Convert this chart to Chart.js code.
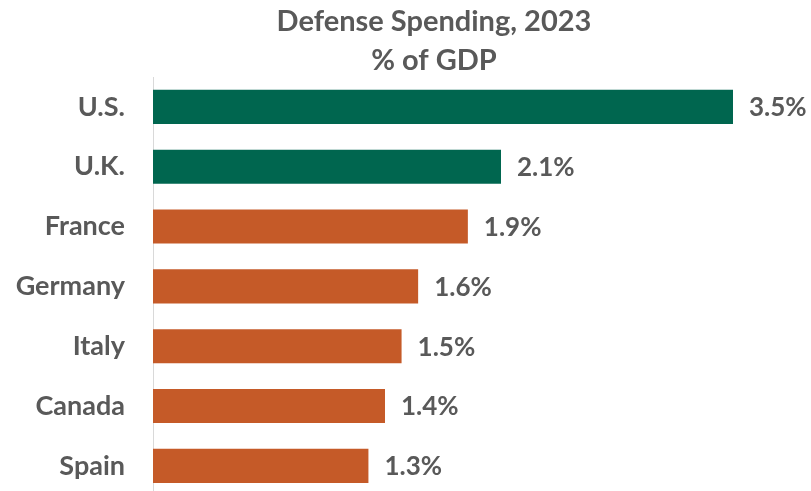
<!DOCTYPE html>
<html>
<head>
<meta charset="utf-8">
<script src="https://cdn.jsdelivr.net/npm/chart.js@4.4.0/dist/chart.umd.min.js"></script>
<style>
  html, body { margin: 0; padding: 0; background: #fff; overflow: hidden; }
  #wrap { width: 811px; height: 491px; overflow: hidden; }
  #box { position: relative; width: 811px; height: 540px; }
</style>
</head>
<body>
<div id="wrap"><div id="box"><canvas id="chart"></canvas></div></div>
<script>
const countries = ['U.S.', 'U.K.', 'France', 'Germany', 'Italy', 'Canada', 'Spain'];
const spending = [3.5, 2.1, 1.9, 1.6, 1.5, 1.4, 1.3];
const barColors = ['#00664f', '#00664f', '#c55a28', '#c55a28', '#c55a28', '#c55a28', '#c55a28'];
const titleLines = ['Defense Spending, 2023', '% of GDP'];

const textGray = '#595959';
const fontFamily = 'Lato, "Open Sans", sans-serif';

// title drawn by hand so it can sit over the bars rather than the whole canvas
const titlePlugin = {
  id: 'twoLineTitle',
  afterDraw(chart) {
    const ctx = chart.ctx;
    ctx.save();
    ctx.fillStyle = textGray;
    ctx.font = 'bold 29px ' + fontFamily;
    ctx.textAlign = 'center';
    ctx.textBaseline = 'alphabetic';
    ctx.fillText(titleLines[0], 434, 31);
    ctx.fillText(titleLines[1], 434, 70);
    ctx.restore();
  }
};

// percent labels at the end of each bar
const valueLabels = {
  id: 'valueLabels',
  afterDatasetsDraw(chart) {
    const ctx = chart.ctx;
    const meta = chart.getDatasetMeta(0);
    ctx.save();
    ctx.fillStyle = textGray;
    ctx.font = 'bold 26px ' + fontFamily;
    ctx.textAlign = 'left';
    ctx.textBaseline = 'middle';
    meta.data.forEach((bar, i) => {
      ctx.fillText(spending[i].toFixed(1) + '%', bar.x + 16, bar.y + 1);
    });
    ctx.restore();
  }
};

new Chart(document.getElementById('chart'), {
  type: 'bar',
  data: {
    labels: countries,
    datasets: [{
      data: spending,
      backgroundColor: barColors,
      borderWidth: 0,
      barPercentage: 0.57,
      categoryPercentage: 1.0
    }]
  },
  options: {
    indexAxis: 'y',
    responsive: true,
    maintainAspectRatio: false,
    animation: false,
    layout: { padding: { top: 77, right: 78, bottom: 0, left: 0 } },
    plugins: {
      legend: { display: false },
      title: { display: false },
      tooltip: { enabled: false }
    },
    scales: {
      x: {
        display: false,
        min: 0,
        max: 3.5
      },
      y: {
        afterFit(scale) { scale.width = 153; },
        grid: { display: false, drawTicks: false },
        border: { display: true, color: '#d9d9d9', width: 1 },
        ticks: {
          color: textGray,
          padding: 28,
          font: { family: fontFamily, size: 27, weight: 'bold' }
        }
      }
    }
  },
  plugins: [titlePlugin, valueLabels]
});
</script>
</body>
</html>
